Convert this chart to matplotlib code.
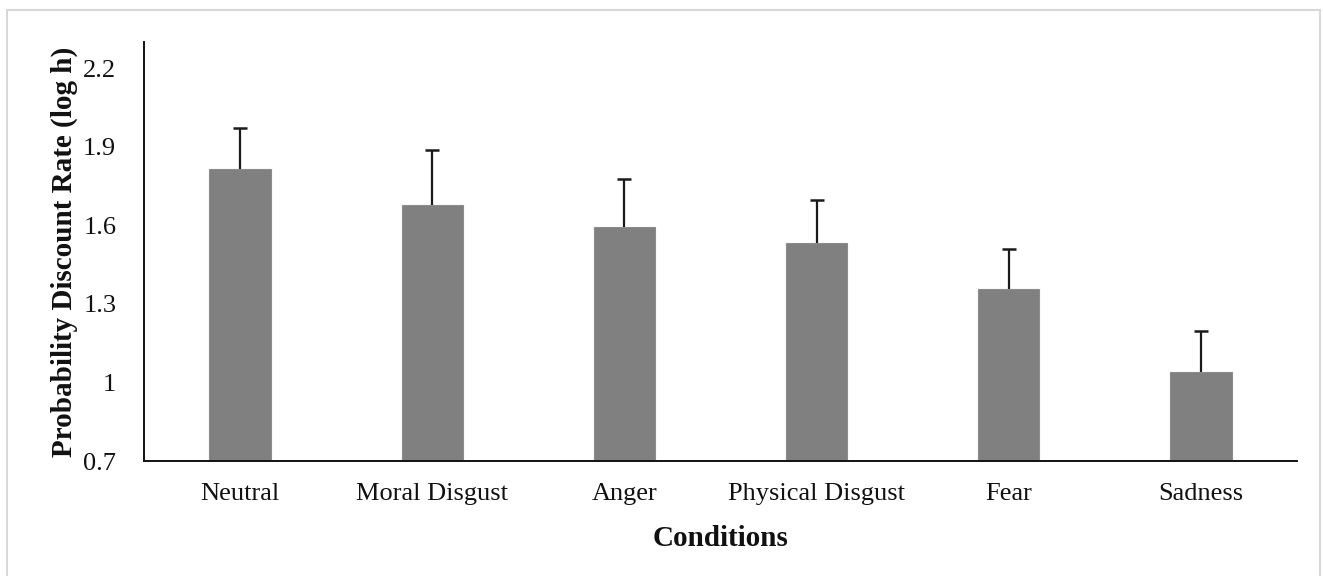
import matplotlib
matplotlib.use("Agg")
import matplotlib.pyplot as plt
from matplotlib.patches import Rectangle

categories = ["Neutral", "Moral Disgust", "Anger", "Physical Disgust", "Fear", "Sadness"]
means = [1.814, 1.677, 1.593, 1.531, 1.358, 1.039]
errors_upper = [0.157, 0.210, 0.182, 0.166, 0.150, 0.158]
yticks = [0.7, 1.0, 1.3, 1.6, 1.9, 2.2]
ytick_labels = ["0.7", "1", "1.3", "1.6", "1.9", "2.2"]

W, H = 1323, 576
fig = plt.figure(figsize=(W / 100, H / 100), dpi=100)
fig.patch.set_facecolor("white")

# light frame around the figure
fig.add_artist(Rectangle((7 / W, -0.05), (1320 - 7) / W, 1 - 10 / H + 0.05,
                         transform=fig.transFigure, fill=False,
                         edgecolor="#d8d8d8", linewidth=1.5))

ax = fig.add_axes([144 / W, (H - 461) / H, (1297 - 144) / W, (461 - 42) / H])
x = list(range(len(categories)))
ax.bar(x, [m - 0.7 for m in means], bottom=0.7, width=0.32,
       color="#808080", edgecolor="#8c8c8c", linewidth=0.8, zorder=2)
eb = ax.errorbar(x, means, yerr=[[0] * len(means), errors_upper], fmt="none",
                 ecolor="#1a1a1a", elinewidth=1.6, capsize=4.8, capthick=1.8, zorder=3)
# hide the lower caps (only upper error bars shown)
caplines = eb[1]
if len(caplines) >= 2:
    caplines[0].set_visible(False)

ax.set_xlim(-0.5, len(categories) - 0.5)
ax.set_ylim(0.7, 2.3)
ax.set_yticks(yticks)
ax.set_yticklabels(ytick_labels)
ax.set_xticks(x)
ax.set_xticklabels(categories)

serif = ["Liberation Serif", "DejaVu Serif"]
for lab in ax.get_xticklabels() + ax.get_yticklabels():
    lab.set_fontfamily(serif)
    lab.set_fontsize(19)
    lab.set_color("#111111")

ax.tick_params(axis="y", length=0, pad=20)
ax.tick_params(axis="x", length=0, pad=16)

ax.set_xlabel("Conditions", fontfamily=serif, fontsize=21, fontweight="bold",
              labelpad=14, color="#111111")
ax.set_ylabel("Probability Discount Rate (log h)", fontfamily=serif, fontsize=21,
              fontweight="bold", labelpad=4, color="#111111")

for s in ["top", "right"]:
    ax.spines[s].set_visible(False)
for s in ["left", "bottom"]:
    ax.spines[s].set_linewidth(1.4)
    ax.spines[s].set_color("#111111")

fig.savefig("out.png", dpi=100, facecolor="white")
